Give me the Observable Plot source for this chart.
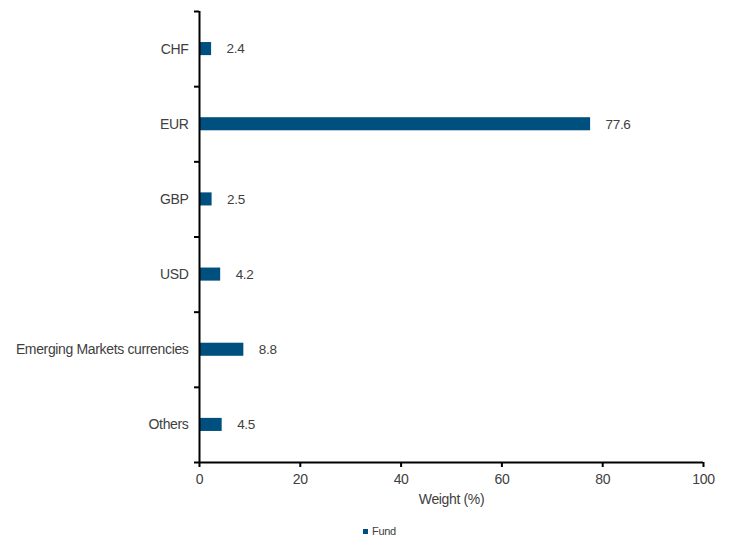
<!DOCTYPE html>
<html>
<head>
<meta charset="utf-8">
<script src="https://cdn.jsdelivr.net/npm/d3@7"></script>
<script src="https://cdn.jsdelivr.net/npm/@observablehq/plot@0.6"></script>
<style>
  html, body { margin: 0; padding: 0; background: #fff; }
  body { width: 729px; height: 541px; overflow: hidden; font-family: "Liberation Sans", Arial, sans-serif; }
  #chart svg text { letter-spacing: -0.35px; }
  #legend { position: relative; height: 21px; font-size: 11px; color: #404040; letter-spacing: -0.3px; }
  #legend .item { position: absolute; left: 363px; top: 5px; display: flex; align-items: center; gap: 4px; }
  #legend .sw { width: 5px; height: 5px; background: #00507f; display: inline-block; }
</style>
</head>
<body>
<div id="chart"></div>
<div id="legend"><span class="item"><span class="sw"></span>Fund</span></div>
<script>
const categories = ["CHF", "EUR", "GBP", "USD", "Emerging Markets currencies", "Others"];
const fundValues = [2.4, 77.6, 2.5, 4.2, 8.8, 4.5];
const xTicks = [0, 20, 40, 60, 80, 100];
const seriesName = "Fund";

const color = "#00507f";
const textColor = "#404040";
const halfBar = 0.087;

const data = categories.map((c, i) => ({category: c, idx: i, value: fundValues[i]}));
const n = categories.length;
const boundaries = d3.range(0, n + 1);
const centers = d3.range(0, n).map(i => i + 0.5);

const chart = Plot.plot({
  width: 729,
  height: 520,
  marginLeft: 199,
  marginRight: 26,
  marginTop: 11,
  marginBottom: 58,
  style: {fontFamily: "'Liberation Sans', Arial, sans-serif", fontSize: "13px", color: textColor, background: "#fff"},
  x: {domain: [0, 100]},
  y: {domain: [0, n], range: [11, 462]},
  marks: [
    Plot.rectX(data, {
      x1: 0, x2: "value",
      y1: d => d.idx + 0.5 - halfBar,
      y2: d => d.idx + 0.5 + halfBar,
      fill: color
    }),
    Plot.text(data, {
      x: "value", y: d => d.idx + 0.5, text: d => d.value.toFixed(1),
      textAnchor: "start", dx: 15, fill: textColor, fontSize: 13.5
    }),
    Plot.ruleX([0], {stroke: "#000", strokeWidth: 2}),
    Plot.ruleY([n], {stroke: "#000", strokeWidth: 2, x1: 0, x2: 100}),
    Plot.axisY({ticks: boundaries, tickFormat: () => "", tickSize: 5, stroke: "#000", strokeWidth: 2, label: null}),
    Plot.axisY({ticks: centers, tickFormat: d => categories[Math.floor(d)], tickSize: 0, tickPadding: 11, fill: textColor, fontSize: 14, label: null}),
    Plot.axisX({ticks: xTicks, tickSize: 5, stroke: "#000", strokeWidth: 2, tickPadding: 7, fill: textColor, fontSize: 14,
      label: "Weight (%)", labelAnchor: "center", labelOffset: 41, labelArrow: "none"})
  ]
});
document.getElementById("chart").appendChild(chart);
</script>
</body>
</html>
